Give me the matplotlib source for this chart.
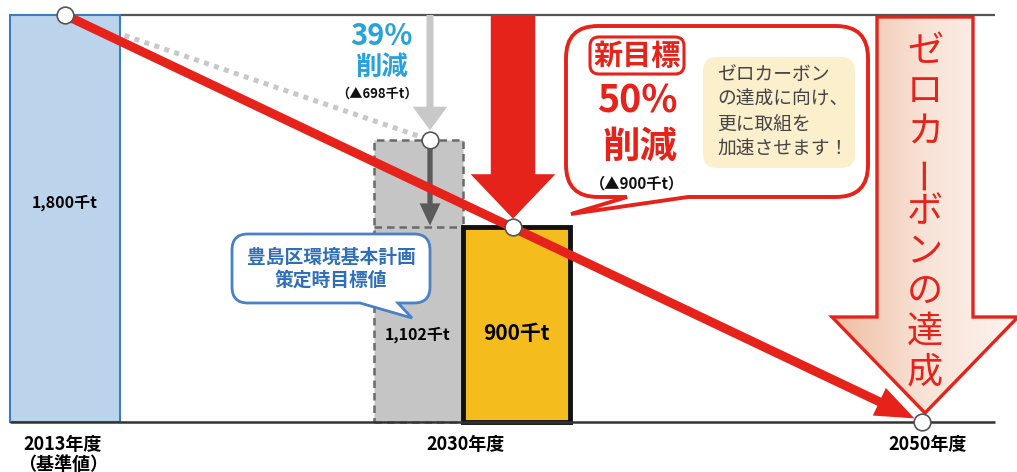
import matplotlib
matplotlib.use("Agg")
import matplotlib.pyplot as plt
import numpy as np
from matplotlib.path import Path
from matplotlib.patches import PathPatch, FancyBboxPatch, Polygon
from matplotlib.transforms import Affine2D
from matplotlib.colors import LinearSegmentedColormap

plt.rcParams['font.family'] = ['Noto Sans CJK JP', 'DejaVu Sans']

# CO2 emissions, thousand t
year_labels = ["2013年度\n（基準値）", "2030年度", "2050年度"]
base_2013 = 1800
old_target_2030 = 1102
new_target_2030 = 900
goal_2050 = 0
old_cut = base_2013 - old_target_2030   # 698
new_cut = base_2013 - new_target_2030   # 900
old_pct = 39
new_pct = 50

RED = '#e5231b'
BLUE_TXT = '#2f6fba'
W, H = 1017, 472

# the infographic is not drawn to scale: piecewise height for each level
levels = [0, new_target_2030, old_target_2030, base_2013]
heights = [0, 195, 282, 407]


def fwd(v):
    return np.interp(v, levels, heights)


def inv(p):
    return np.interp(p, heights, levels)


fig = plt.figure(figsize=(W / 100, H / 100), dpi=100)
ax = fig.add_axes([0, 50 / H, 1, 407 / H])
ax.set_yscale('function', functions=(fwd, inv))
ax.set_xlim(0, W)
ax.set_ylim(0, base_2013)
ax.set_autoscale_on(False)
for s in ax.spines.values():
    s.set_visible(False)
ax.set_yticks([])
ax.patch.set_alpha(0)

# pixel coords (y down) for the decoration
PX = Affine2D().scale(1 / W, -1 / H).translate(0, 1) + fig.transFigure

# x positions (layout)
x13, x_old, x_new, x50 = 65, 418, 516, 922
x_old_pt, x_new_pt = 430, 513

# --- big hollow arrow "zero carbon" ---
arrow_pts = [(877, 17), (973, 17), (973, 317), (1018, 317), (925, 413),
             (832, 317), (877, 317)]
big = Polygon(arrow_pts, closed=True, fc='none', ec=RED, lw=2.4,
              transform=PX, zorder=1.2, clip_on=False)
grad = LinearSegmentedColormap.from_list('g', ['#efbc9f', '#f8e2d6', '#fdf4ef'])
im = ax.imshow(np.linspace(0, 1, 256)[None, :], cmap=grad, aspect='auto',
               extent=[830, 1018, 413, 17], transform=PX, zorder=1.1)
clip = Polygon(arrow_pts, closed=True, transform=PX)
im.set_clip_path(clip)
ax.add_patch(big)
for i, ch in enumerate("ゼロカーボンの達成"):
    ax.text(925, 52 + i * 40, ch, transform=PX, ha='center', va='center',
            fontsize=26, color=RED, rotation=90 if ch == 'ー' else 0, zorder=9)

# --- bars ---
b1 = ax.bar(x13, base_2013, width=110, color='#bcd4eb', edgecolor='#3d7cc0',
            lw=1.5, zorder=2)
b2 = ax.bar(x_old, old_target_2030, width=89, color='#c5c5c5', edgecolor='#6a6a6a',
            lw=1.8, ls=(0, (3, 2)), zorder=2)
ax.hlines(new_target_2030, 374, 462, colors='#6a6a6a', lw=1.8,
          linestyles=(0, (3, 2)), zorder=2.5)
b3 = ax.bar(x_new, new_target_2030, width=107, color='#f4bd1d', edgecolor='#111111',
            lw=3.5, zorder=3)
for bars in (b1, b2, b3):
    for r in bars:
        r.set_clip_on(False)

ax.hlines(base_2013, 120, 995, colors='#555555', lw=1.6, zorder=1.5, clip_on=False)
ax.hlines(goal_2050, 10, 995, colors='#333333', lw=1.8, zorder=3.5, clip_on=False)

# --- reduction arrows ---
ax.annotate('', xy=(x_old_pt, old_target_2030), xytext=(x_old_pt, base_2013),
            arrowprops=dict(arrowstyle='simple,tail_width=5,head_width=25,head_length=17',
                            mutation_scale=1, fc='#c8c8c8', ec='none',
                            shrinkA=0, shrinkB=7), zorder=4)
ax.annotate('', xy=(x_old_pt, new_target_2030), xytext=(x_old_pt, old_target_2030),
            arrowprops=dict(arrowstyle='simple,tail_width=3.8,head_width=15,head_length=16',
                            mutation_scale=1, fc='#5a5a5a', ec='none',
                            shrinkA=5, shrinkB=1), zorder=4)
ax.annotate('', xy=(x_new_pt, new_target_2030), xytext=(x_new_pt, base_2013),
            arrowprops=dict(arrowstyle='simple,tail_width=32,head_width=61,head_length=32',
                            mutation_scale=1, fc=RED, ec='none',
                            shrinkA=0, shrinkB=6), zorder=4)

# old plan path (dotted) and new path (red)
ax.plot([x13, x_old_pt], [base_2013, old_target_2030], color='#c8c8c8', lw=3.6,
        ls=(0, (1, 1.1)), zorder=1.8)
ax.annotate('', xy=(x50, goal_2050), xytext=(x13, base_2013),
            arrowprops=dict(arrowstyle='simple,tail_width=6.5,head_width=22,head_length=28',
                            mutation_scale=1, fc=RED, ec='none',
                            shrinkA=0, shrinkB=6), zorder=7)
ax.plot([x13, x_old_pt, x_new_pt, x50],
        [base_2013, old_target_2030, new_target_2030, goal_2050], 'o', ms=12,
        mfc='white', mec='#555555', mew=1.2, zorder=8, clip_on=False)


# --- speech bubbles ---
def bubble(x0, y0, x1, y1, r, ta, tb, tip):
    M, L, C, Z = Path.MOVETO, Path.LINETO, Path.CURVE3, Path.CLOSEPOLY
    verts = [(x0 + r, y0), (x1 - r, y0), (x1, y0), (x1, y0 + r), (x1, y1 - r),
             (x1, y1), (x1 - r, y1), (tb, y1), tip, (ta, y1), (x0 + r, y1),
             (x0, y1), (x0, y1 - r), (x0, y0 + r), (x0, y0), (x0 + r, y0),
             (x0 + r, y0)]
    codes = [M, L, C, C, L, C, C, L, L, L, L, C, C, L, C, C, Z]
    return Path(verts, codes)


ax.add_patch(PathPatch(bubble(566, 26, 868, 197, 32, 627, 688, (571, 214)),
                       fc='white', ec=RED, lw=2.8, transform=PX, zorder=5,
                       clip_on=False))
ax.add_patch(PathPatch(bubble(232, 234, 430, 303, 16, 360, 398, (412, 318)),
                       fc='white', ec='#4a80c8', lw=2, transform=PX, zorder=6,
                       clip_on=False))
ax.text(331, 269, "豊島区環境基本計画\n策定時目標値", transform=PX, ha='center',
        va='center', fontsize=13.5, fontweight='bold', color=BLUE_TXT,
        linespacing=1.25, zorder=9)

ax.add_patch(FancyBboxPatch((590, 37), 94, 37, boxstyle='round,pad=0,rounding_size=9',
                            fc='white', ec=RED, lw=2.2, transform=PX, zorder=5.5,
                            clip_on=False))
ax.text(637, 56, "新目標", transform=PX, ha='center', va='center', fontsize=21,
        fontweight='bold', color=RED, zorder=9)
ax.text(637, 101, f"{new_pct}%", transform=PX, ha='center', va='center',
        fontsize=27, fontweight='bold', color=RED, zorder=9)
ax.text(640, 146, "削減", transform=PX, ha='center', va='center', fontsize=27,
        fontweight='bold', color=RED, zorder=9)
ax.text(637, 183, f"（▲{new_cut}千t）", transform=PX, ha='center', va='center',
        fontsize=11, fontweight='bold', color='#111111', zorder=9)

ax.add_patch(FancyBboxPatch((703, 57), 152, 111, boxstyle='round,pad=0,rounding_size=14',
                            fc='#fbefcc', ec='none', transform=PX, zorder=5.5,
                            clip_on=False))
ax.text(717, 112, "ゼロカーボン\nの達成に向け、\n更に取組を\n加速させます！",
        transform=PX, ha='left', va='center', fontsize=13.5, color='#444444',
        linespacing=1.25, zorder=9)

# --- value labels ---
ax.text(381, 36, f"{old_pct}%", transform=PX, ha='center', va='center',
        fontsize=21, fontweight='bold', color='#27a2dc', zorder=9)
ax.text(381, 67, "削減", transform=PX, ha='center', va='center', fontsize=19,
        fontweight='bold', color='#27a2dc', zorder=9)
ax.text(377, 94, f"（▲{old_cut}千t）", transform=PX, ha='center', va='center',
        fontsize=9.5, fontweight='bold', color='#111111', zorder=9)

ax.text(65, 203, f"{base_2013:,}千t", transform=PX, ha='center', va='center',
        fontsize=11.5, fontweight='bold', zorder=9)
ax.text(418, 335, f"{old_target_2030:,}千t", transform=PX, ha='center',
        va='center', fontsize=11.5, fontweight='bold', zorder=9)
ax.text(516, 333, f"{new_target_2030:,}千t", transform=PX, ha='center',
        va='center', fontsize=15, fontweight='bold', zorder=9)

# --- year labels ---
ax.set_xticks([63, 466, 928], labels=year_labels)
ax.tick_params(axis='x', length=0, pad=9, labelsize=13)
for t in ax.get_xticklabels():
    t.set_fontweight('bold')
    t.set_linespacing(1.1)

fig.savefig('out.png', dpi=100)
